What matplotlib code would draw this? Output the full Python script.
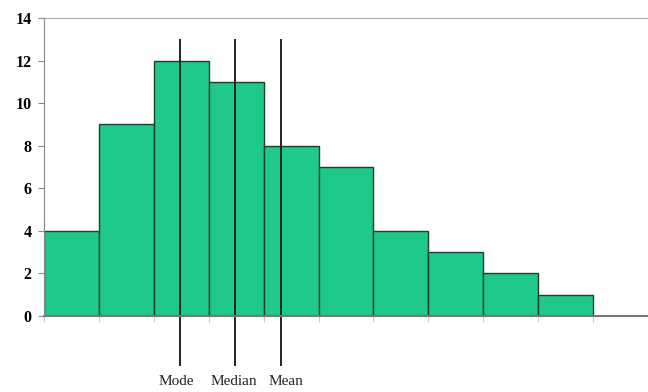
import numpy as np
import matplotlib.pyplot as plt

# hauteurs des classes de l'histogramme
counts = [4, 9, 12, 11, 8, 7, 4, 3, 2, 1]
bin_left = np.arange(len(counts))
tick_edges = np.arange(0, 12)

# position des indicateurs (en unités de classe)
stat_names = ['Mode', 'Median', 'Mean']
stat_pos = [2.47, 3.48, 4.32]
label_pos = [2.40, 3.45, 4.40]

fig = plt.figure(figsize=(6.48, 3.92), dpi=100)
ax = fig.add_axes([44 / 648, 1 - 316 / 392, 1 - 44 / 648, (316 - 18) / 392])

ax.bar(bin_left, counts, width=1, align='edge', color='#1fc98a',
       edgecolor='#1f3d2c', linewidth=1.0)

for name, x, xl in zip(stat_names, stat_pos, label_pos):
    ax.plot([x, x], [-2.3, 12.95], color='#222222', linewidth=1.4, clip_on=False)
    ax.text(xl, -3.1, name, ha='center', va='center', family='Liberation Serif',
            fontsize=11, color='#222222')

ax.set_xlim(0, 10.89)
ax.set_ylim(0, 14)
ax.set_yticks(np.arange(0, 15, 2))
ax.set_yticklabels([str(v) for v in range(0, 15, 2)], family='Liberation Serif',
                   fontweight='bold', fontsize=11.5)
ax.set_xticks(tick_edges)
ax.set_xticklabels([])
ax.tick_params(axis='x', direction='out', length=4, color='#cccccc', width=0.8)
ax.tick_params(axis='y', direction='out', length=4, color='#888888', width=0.8, pad=5)

ax.spines['right'].set_visible(False)
ax.spines['top'].set_color('#aaaaaa')
ax.spines['left'].set_color('#888888')
ax.spines['bottom'].set_color('#777777')
ax.spines['bottom'].set_linewidth(1.5)

fig.savefig('out.png', dpi=100)
